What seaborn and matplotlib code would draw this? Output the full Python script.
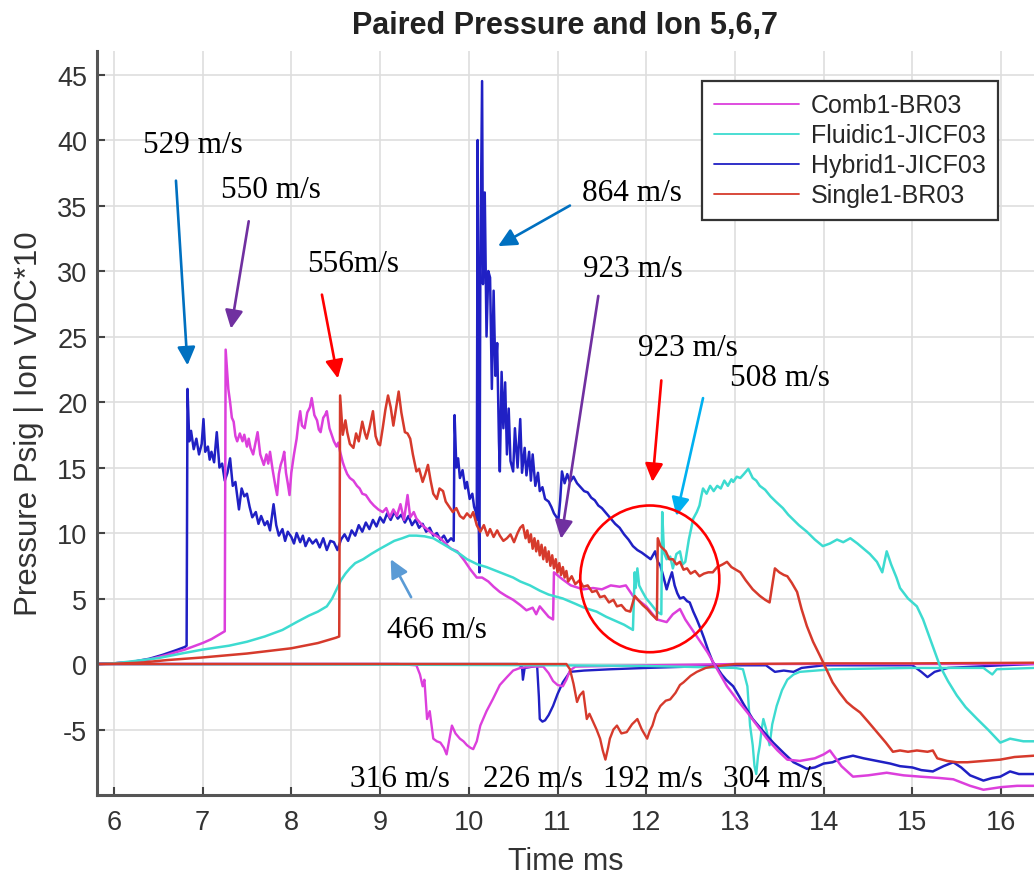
"""Paired pressure and ion traces (runs 5,6,7) with wave-speed call-outs."""

import matplotlib.pyplot as plt
import pandas as pd
import seaborn as sns
from matplotlib.patches import Ellipse

SERIES = ["Comb1-BR03", "Fluidic1-JICF03", "Hybrid1-JICF03", "Single1-BR03"]
COLORS = {
    "Comb1-BR03": "#dc3fdc",
    "Fluidic1-JICF03": "#3ddbd0",
    "Hybrid1-JICF03": "#2020c4",
    "Single1-BR03": "#d63a2c",
}

# pressure traces (time ms, psig)
COMB_P = [
    (5.81, 0.0), (6.0, 0.05), (6.2, 0.15), (6.4, 0.35), (6.6, 0.7), (6.8, 1.1), (7.0, 1.6),
    (7.1, 1.9), (7.2, 2.3), (7.25, 2.5), (7.26, 24.0), (7.29, 21.0), (7.31, 20.0), (7.33, 18.8),
    (7.35, 18.5), (7.37, 17.4), (7.39, 17.0), (7.42, 17.6), (7.45, 17.0), (7.47, 17.5),
    (7.5, 16.6), (7.52, 17.2), (7.54, 16.5), (7.57, 16.0), (7.6, 17.0), (7.62, 17.7),
    (7.65, 16.0), (7.67, 15.6), (7.69, 15.2), (7.72, 16.0), (7.74, 15.3), (7.76, 16.2),
    (7.79, 14.8), (7.82, 13.6), (7.84, 12.9), (7.86, 14.5), (7.88, 15.2), (7.9, 15.6),
    (7.92, 16.2), (7.94, 14.6), (7.96, 13.8), (7.98, 12.9), (8.0, 14.6), (8.03, 16.0),
    (8.06, 17.2), (8.08, 18.4), (8.1, 19.3), (8.12, 18.2), (8.15, 18.0), (8.18, 19.2),
    (8.21, 19.6), (8.23, 20.3), (8.26, 19.0), (8.29, 18.6), (8.31, 17.9), (8.33, 17.7),
    (8.36, 18.8), (8.38, 19.0), (8.4, 19.3), (8.43, 18.0), (8.46, 17.4), (8.48, 17.0),
    (8.51, 16.6), (8.53, 16.9), (8.55, 16.2), (8.58, 15.4), (8.6, 15.0), (8.63, 14.5),
    (8.66, 14.2), (8.7, 14.0), (8.74, 13.6), (8.77, 13.4), (8.8, 13.0), (8.84, 12.9),
    (8.89, 12.4), (8.93, 12.1), (8.98, 11.8), (9.03, 11.6), (9.07, 11.9), (9.11, 11.2),
    (9.15, 11.8), (9.19, 11.3), (9.23, 12.2), (9.27, 11.0), (9.31, 12.9), (9.34, 11.2),
    (9.38, 11.6), (9.41, 11.1), (9.45, 10.8), (9.49, 10.5), (9.53, 10.3), (9.58, 10.0),
    (9.63, 9.8), (9.68, 9.6), (9.75, 9.1), (9.8, 8.8), (9.87, 8.6), (9.95, 7.9), (10.02, 7.2),
    (10.09, 6.6), (10.15, 6.6), (10.22, 6.3), (10.28, 5.9), (10.35, 5.5), (10.42, 5.2),
    (10.5, 4.9), (10.58, 4.5), (10.65, 4.1), (10.72, 4.3), (10.76, 3.8), (10.8, 4.4),
    (10.85, 4.0), (10.9, 3.6), (10.95, 3.4), (10.96, 7.0), (11.05, 6.5), (11.15, 6.0),
    (11.29, 5.7), (11.4, 5.8), (11.5, 5.7), (11.6, 6.0), (11.7, 5.9), (11.77, 6.0),
    (11.85, 5.2), (12.0, 4.4), (12.12, 3.4), (12.23, 3.2), (12.3, 3.8), (12.38, 4.2),
    (12.44, 3.4), (12.49, 2.9), (12.6, 1.8), (12.69, 0.9), (12.8, -0.4), (12.91, -1.7),
    (13.02, -2.7), (13.14, -3.7), (13.25, -4.7), (13.36, -5.7), (13.48, -6.6), (13.59, -7.3),
    (13.73, -7.4), (13.9, -7.2), (14.0, -6.9), (14.07, -6.6), (14.2, -7.8), (14.33, -8.6),
    (14.5, -8.5), (14.71, -8.3), (14.9, -8.5), (15.09, -8.6), (15.3, -8.7), (15.46, -8.8),
    (15.65, -9.3), (15.8, -9.6), (16.0, -9.4), (16.18, -9.3), (16.37, -9.3),
]
FLUIDIC_P = [
    (5.81, 0.0), (6.0, 0.05), (6.2, 0.2), (6.5, 0.45), (6.8, 0.85), (7.0, 1.1), (7.3, 1.4),
    (7.5, 1.7), (7.7, 2.1), (7.9, 2.6), (8.06, 3.2), (8.2, 3.7), (8.3, 4.0), (8.4, 4.4),
    (8.46, 5.0), (8.51, 5.7), (8.56, 6.4), (8.61, 6.9), (8.66, 7.3), (8.72, 7.7), (8.81, 8.0),
    (8.9, 8.4), (9.0, 8.8), (9.08, 9.1), (9.16, 9.4), (9.25, 9.6), (9.33, 9.8), (9.41, 9.8),
    (9.5, 9.75), (9.6, 9.6), (9.7, 9.2), (9.8, 8.8), (9.9, 8.4), (9.98, 8.0), (10.1, 7.6),
    (10.2, 7.4), (10.35, 7.0), (10.5, 6.6), (10.58, 6.3), (10.69, 6.0), (10.8, 5.6),
    (10.9, 5.3), (11.06, 5.0), (11.2, 4.6), (11.3, 4.3), (11.44, 4.0), (11.55, 3.6),
    (11.65, 3.3), (11.75, 3.0), (11.85, 2.6), (11.87, 7.0), (11.88, 5.8), (11.9, 7.3),
    (11.92, 6.0), (11.95, 5.6), (12.0, 5.0), (12.05, 4.6), (12.12, 4.0), (12.17, 3.8),
    (12.18, 11.6), (12.2, 8.5), (12.23, 8.0), (12.27, 8.2), (12.3, 7.3), (12.34, 8.4),
    (12.38, 8.6), (12.41, 7.6), (12.44, 7.8), (12.48, 9.5), (12.53, 11.1), (12.57, 11.6),
    (12.6, 12.1), (12.62, 12.8), (12.64, 13.4), (12.68, 13.0), (12.72, 13.6), (12.76, 13.2),
    (12.8, 13.6), (12.84, 13.4), (12.88, 14.0), (12.92, 13.6), (12.96, 14.1), (12.98, 13.9),
    (13.02, 14.3), (13.06, 14.2), (13.1, 14.5), (13.15, 14.9), (13.2, 14.2), (13.24, 14.0),
    (13.28, 13.6), (13.34, 13.3), (13.4, 12.8), (13.46, 12.4), (13.54, 11.9), (13.6, 11.4),
    (13.66, 11.0), (13.72, 10.6), (13.81, 10.1), (13.9, 9.5), (13.99, 9.0), (14.07, 9.2),
    (14.15, 9.5), (14.22, 9.3), (14.3, 9.6), (14.38, 9.2), (14.45, 8.8), (14.52, 8.4),
    (14.6, 7.8), (14.66, 7.0), (14.71, 8.6), (14.76, 7.6), (14.82, 6.6), (14.86, 5.8),
    (14.95, 5.0), (15.05, 4.4), (15.12, 3.4), (15.2, 1.9), (15.31, -0.15), (15.4, -1.3),
    (15.5, -2.4), (15.6, -3.3), (15.73, -4.2), (15.85, -5.0), (15.99, -6.0), (16.1, -5.7),
    (16.25, -5.9), (16.37, -5.9),
]
HYBRID_P = [
    (5.81, 0.0), (6.0, 0.05), (6.2, 0.15), (6.4, 0.4), (6.55, 0.7), (6.7, 1.05), (6.8, 1.3),
    (6.82, 1.4), (6.83, 21.0), (6.85, 17.0), (6.87, 17.8), (6.9, 16.4), (6.93, 17.2),
    (6.96, 16.0), (6.99, 16.8), (7.01, 18.7), (7.03, 16.2), (7.06, 16.6), (7.08, 15.6),
    (7.1, 16.2), (7.13, 15.4), (7.16, 17.7), (7.19, 15.0), (7.22, 15.3), (7.25, 14.0),
    (7.28, 14.6), (7.31, 15.7), (7.34, 13.6), (7.37, 13.9), (7.41, 11.8), (7.44, 13.4),
    (7.47, 12.8), (7.5, 13.0), (7.53, 12.0), (7.56, 11.2), (7.6, 11.6), (7.63, 10.7),
    (7.66, 11.3), (7.7, 10.6), (7.73, 10.9), (7.76, 10.2), (7.8, 12.2), (7.83, 10.6),
    (7.86, 9.8), (7.9, 10.3), (7.93, 9.4), (7.96, 10.1), (8.0, 9.7), (8.03, 9.2), (8.06, 10.0),
    (8.1, 9.3), (8.13, 9.8), (8.16, 9.0), (8.2, 9.6), (8.24, 9.2), (8.28, 9.5), (8.32, 8.9),
    (8.36, 9.6), (8.4, 8.7), (8.44, 9.4), (8.48, 9.3), (8.52, 8.7), (8.56, 9.5), (8.6, 9.9),
    (8.64, 9.4), (8.68, 10.2), (8.72, 9.8), (8.76, 10.6), (8.8, 10.1), (8.84, 10.8),
    (8.88, 10.3), (8.92, 11.0), (8.96, 10.5), (9.0, 11.2), (9.04, 10.8), (9.08, 11.5),
    (9.12, 11.0), (9.16, 11.6), (9.2, 11.1), (9.24, 11.4), (9.28, 10.8), (9.32, 11.3),
    (9.36, 10.6), (9.4, 11.0), (9.44, 10.4), (9.48, 10.7), (9.52, 10.1), (9.56, 10.4),
    (9.6, 9.8), (9.64, 10.0), (9.68, 9.5), (9.72, 9.8), (9.76, 9.3), (9.8, 9.6), (9.83, 9.4),
    (9.84, 19.0), (9.86, 15.0), (9.88, 15.7), (9.9, 14.2), (9.93, 14.8), (9.96, 13.4),
    (9.98, 13.9), (10.01, 12.6), (10.04, 13.0), (10.06, 12.0), (10.08, 11.6), (10.09, 11.0),
    (10.1, 40.0), (10.11, 12.0), (10.12, 7.0), (10.13, 30.0), (10.15, 44.5), (10.16, 29.0),
    (10.18, 36.0), (10.2, 25.0), (10.22, 30.0), (10.24, 29.5), (10.26, 21.0), (10.28, 28.5),
    (10.3, 22.0), (10.32, 24.5), (10.34, 17.0), (10.35, 14.7), (10.37, 22.3), (10.39, 18.0),
    (10.41, 21.5), (10.43, 16.0), (10.45, 19.5), (10.47, 15.5), (10.5, 14.7), (10.52, 18.0),
    (10.55, 15.0), (10.58, 18.7), (10.6, 14.6), (10.63, 16.5), (10.65, 14.4), (10.68, 16.2),
    (10.7, 14.0), (10.72, 16.0), (10.75, 13.6), (10.78, 14.6), (10.8, 13.2), (10.83, 13.5),
    (10.86, 12.6), (10.9, 12.4), (10.93, 12.0), (10.96, 11.5), (10.99, 11.2), (11.01, 11.0),
    (11.03, 12.5), (11.05, 14.7), (11.08, 13.8), (11.11, 14.5), (11.14, 13.9), (11.18, 14.3),
    (11.22, 13.8), (11.26, 13.5), (11.3, 13.2), (11.34, 13.1), (11.38, 12.7), (11.42, 12.5),
    (11.46, 12.1), (11.5, 11.9), (11.55, 11.5), (11.6, 11.1), (11.65, 10.7), (11.7, 10.4),
    (11.75, 9.9), (11.8, 9.5), (11.85, 9.0), (11.9, 8.7), (11.95, 8.5), (12.01, 8.2),
    (12.05, 8.0), (12.1, 8.6), (12.13, 7.8), (12.16, 7.5), (12.2, 6.5), (12.23, 5.7),
    (12.26, 6.4), (12.29, 7.0), (12.32, 6.0), (12.35, 5.4), (12.38, 5.0), (12.42, 5.1),
    (12.46, 4.8), (12.49, 4.7), (12.53, 4.0), (12.57, 3.4), (12.6, 2.9), (12.65, 2.0),
    (12.7, 1.0), (12.75, 0.15), (12.8, -0.3), (12.85, -0.8), (12.9, -1.2), (12.98, -1.7),
    (13.05, -2.5), (13.1, -3.1), (13.2, -4.2), (13.3, -5.0), (13.43, -6.0), (13.55, -6.8),
    (13.66, -7.5), (13.75, -7.8), (13.81, -8.0), (13.9, -7.9), (14.0, -7.6), (14.1, -7.5),
    (14.2, -7.2), (14.33, -7.0), (14.45, -7.2), (14.6, -7.4), (14.75, -7.6), (14.86, -7.8),
    (15.0, -7.9), (15.1, -8.1), (15.23, -8.2), (15.35, -7.8), (15.46, -7.5), (15.55, -7.9),
    (15.65, -8.5), (15.8, -8.9), (15.9, -8.7), (15.99, -8.6), (16.1, -8.2), (16.2, -8.4),
    (16.37, -8.4),
]
SINGLE_P = [
    (5.81, 0.0), (6.0, 0.02), (6.3, 0.1), (6.6, 0.3), (7.0, 0.5), (7.5, 0.8), (8.0, 1.2),
    (8.3, 1.6), (8.5, 2.0), (8.54, 2.1), (8.55, 20.5), (8.58, 17.5), (8.61, 18.6), (8.63, 17.7),
    (8.66, 16.8), (8.7, 16.5), (8.73, 17.6), (8.76, 17.0), (8.8, 18.5), (8.83, 17.6),
    (8.85, 17.2), (8.88, 18.0), (8.92, 19.3), (8.95, 17.4), (8.98, 16.8), (9.0, 16.7),
    (9.03, 18.0), (9.06, 19.4), (9.09, 20.5), (9.12, 19.6), (9.15, 18.2), (9.18, 19.5),
    (9.21, 20.8), (9.24, 19.2), (9.28, 17.7), (9.31, 17.6), (9.34, 17.2), (9.37, 16.0),
    (9.41, 14.7), (9.44, 14.9), (9.48, 13.9), (9.51, 14.5), (9.54, 15.2), (9.57, 14.0),
    (9.6, 13.0), (9.64, 12.6), (9.67, 13.4), (9.71, 13.2), (9.74, 12.4), (9.78, 12.0),
    (9.82, 11.6), (9.86, 11.9), (9.9, 11.3), (9.94, 11.1), (9.98, 11.5), (10.02, 11.2),
    (10.05, 11.6), (10.09, 10.6), (10.13, 10.1), (10.17, 10.6), (10.21, 9.8), (10.24, 10.3),
    (10.28, 9.7), (10.32, 10.2), (10.35, 9.8), (10.39, 9.4), (10.43, 9.6), (10.47, 9.9),
    (10.51, 9.3), (10.55, 10.0), (10.58, 10.4), (10.61, 10.6), (10.64, 9.6), (10.66, 10.2),
    (10.68, 9.3), (10.7, 9.9), (10.72, 8.8), (10.74, 9.6), (10.76, 8.6), (10.78, 9.4),
    (10.8, 8.3), (10.82, 9.1), (10.84, 8.0), (10.86, 8.9), (10.88, 7.8), (10.9, 8.6),
    (10.92, 7.5), (10.94, 8.3), (10.96, 7.3), (10.98, 8.0), (11.0, 7.0), (11.02, 7.7),
    (11.04, 6.8), (11.06, 7.4), (11.08, 6.6), (11.1, 7.1), (11.12, 6.3), (11.16, 6.7),
    (11.2, 6.1), (11.25, 6.4), (11.29, 5.9), (11.34, 6.0), (11.39, 5.5), (11.44, 5.6),
    (11.48, 5.1), (11.53, 5.2), (11.58, 4.7), (11.63, 4.9), (11.67, 4.4), (11.72, 4.5),
    (11.77, 4.1), (11.82, 4.0), (11.87, 5.2), (11.92, 4.8), (11.96, 4.5), (12.01, 4.2),
    (12.06, 3.8), (12.12, 3.4), (12.13, 9.6), (12.16, 9.0), (12.19, 8.8), (12.22, 8.6),
    (12.26, 8.0), (12.3, 8.0), (12.34, 7.6), (12.38, 7.8), (12.42, 7.2), (12.46, 7.3),
    (12.5, 6.9), (12.55, 7.1), (12.6, 6.7), (12.65, 6.9), (12.7, 7.0), (12.75, 7.0),
    (12.8, 7.4), (12.86, 7.6), (12.91, 7.8), (12.96, 7.4), (13.01, 7.2), (13.06, 7.0),
    (13.12, 6.4), (13.2, 5.7), (13.28, 5.2), (13.34, 4.9), (13.39, 4.7), (13.42, 6.0),
    (13.45, 7.3), (13.5, 7.0), (13.55, 6.8), (13.59, 6.7), (13.64, 6.2), (13.7, 5.5),
    (13.75, 4.2), (13.81, 2.9), (13.88, 1.7), (13.96, 0.6), (14.03, -0.4), (14.1, -1.4),
    (14.18, -2.2), (14.26, -2.9), (14.33, -3.3), (14.41, -3.7), (14.5, -4.4), (14.6, -5.2),
    (14.7, -6.0), (14.78, -6.7), (14.86, -6.6), (14.95, -6.7), (15.05, -6.6), (15.17, -6.7),
    (15.23, -6.6), (15.28, -7.2), (15.39, -7.4), (15.5, -7.5), (15.62, -7.5), (15.8, -7.4),
    (15.99, -7.3), (16.15, -7.1), (16.37, -7.0),
]

# ion traces (time ms, VDC*10)
COMB_ION = [
    (5.81, 0.0), (9.2, 0.0), (9.41, -0.1), (9.45, -0.8), (9.48, -1.7), (9.5, -1.2),
    (9.53, -4.2), (9.56, -3.6), (9.6, -5.7), (9.64, -5.9), (9.68, -6.0), (9.72, -6.4),
    (9.75, -6.9), (9.78, -5.8), (9.81, -4.7), (9.85, -5.3), (9.9, -5.7), (9.94, -5.9),
    (9.98, -6.2), (10.02, -6.4), (10.05, -6.5), (10.09, -5.9), (10.13, -4.7), (10.2, -3.6),
    (10.27, -2.7), (10.35, -1.6), (10.43, -1.0), (10.5, -0.5), (10.58, -0.3), (10.7, -0.2),
    (10.84, -0.2), (10.9, -0.7), (10.95, -1.3), (11.0, -1.6), (11.06, -1.7), (11.1, -1.2),
    (11.14, -0.5), (11.2, -0.2), (12.0, -0.1), (13.0, 0.0), (14.0, 0.0), (15.0, 0.0),
    (16.37, 0.0),
]
FLUIDIC_ION = [
    (5.81, 0.0), (9.0, -0.05), (11.0, -0.1), (12.0, -0.15), (13.0, -0.3), (13.09, -0.4),
    (13.14, -1.7), (13.17, -4.7), (13.2, -6.2), (13.22, -7.8), (13.24, -8.4), (13.26, -7.0),
    (13.28, -6.2), (13.3, -5.0), (13.32, -4.2), (13.36, -5.2), (13.39, -6.2), (13.42, -4.6),
    (13.47, -3.2), (13.53, -2.0), (13.59, -1.2), (13.66, -0.8), (13.73, -0.6), (14.1, -0.4),
    (15.0, -0.3), (15.8, -0.3), (15.9, -0.8), (15.95, -0.4), (16.37, -0.3),
]
HYBRID_ION = [
    (5.81, 0.0), (10.55, 0.0), (10.6, -0.2), (10.61, -1.2), (10.63, -0.3), (10.72, -0.2),
    (10.77, -0.1), (10.79, -2.5), (10.8, -4.2), (10.83, -4.4), (10.86, -4.3), (10.9, -3.9),
    (10.95, -3.2), (11.0, -2.3), (11.06, -1.4), (11.1, -1.0), (11.14, -0.6), (11.3, -0.5),
    (11.6, -0.4), (12.0, -0.3), (12.5, -0.2), (13.0, -0.1), (13.35, -0.1), (13.45, -0.6),
    (13.55, -0.5), (13.66, -0.6), (13.75, -0.3), (14.0, -0.1), (15.0, -0.1), (15.1, -0.6),
    (15.17, -1.0), (15.25, -0.6), (15.4, -0.3), (16.0, -0.1), (16.37, 0.0),
]
SINGLE_ION = [
    (5.81, 0.0), (11.1, 0.0), (11.14, -0.4), (11.18, -1.5), (11.22, -2.9), (11.25, -2.4),
    (11.29, -2.1), (11.33, -4.2), (11.36, -3.8), (11.4, -4.4), (11.44, -5.0), (11.48, -5.7),
    (11.51, -6.6), (11.54, -7.3), (11.57, -6.4), (11.59, -5.7), (11.63, -5.0), (11.67, -4.7),
    (11.72, -5.3), (11.78, -5.2), (11.84, -4.6), (11.9, -4.2), (11.95, -5.0), (12.01, -5.7),
    (12.04, -5.1), (12.07, -4.7), (12.11, -3.8), (12.16, -3.2), (12.22, -2.8), (12.27, -2.7),
    (12.33, -2.2), (12.38, -1.6), (12.42, -1.4), (12.5, -0.9), (12.57, -0.6), (12.67, -0.3),
    (12.75, -0.2), (13.0, 0.0), (14.0, 0.05), (15.0, 0.05), (16.37, 0.1),
]

PRESSURE = {
    "Comb1-BR03": COMB_P,
    "Fluidic1-JICF03": FLUIDIC_P,
    "Hybrid1-JICF03": HYBRID_P,
    "Single1-BR03": SINGLE_P,
}
ION = {
    "Comb1-BR03": COMB_ION,
    "Fluidic1-JICF03": FLUIDIC_ION,
    "Hybrid1-JICF03": HYBRID_ION,
    "Single1-BR03": SINGLE_ION,
}

# wave-speed call-outs: text, text anchor, arrow tail, arrow head, colour
SPEED_ARROWS = [
    ("529 m/s", (6.33, 39.1), (6.70, 36.9), (6.83, 22.8), "#0070c0"),
    ("550 m/s", (7.21, 35.65), (7.52, 33.8), (7.32, 25.6), "#7030a0"),
    ("556m/s", (8.18, 30.0), (8.345, 28.2), (8.525, 21.8), "#ff0000"),
    ("864 m/s", (11.28, 35.4), (11.14, 35.0), (10.33, 31.9), "#0070c0"),
    ("923 m/s", (11.29, 29.6), (11.46, 28.1), (11.04, 9.56), "#7030a0"),
    ("923 m/s", (11.91, 23.6), (12.17, 21.65), (12.07, 13.9), "#ff0000"),
    ("508 m/s", (12.94, 21.3), (12.64, 20.3), (12.34, 11.3), "#00b0f0"),
    ("466 m/s", (9.08, 2.07), (9.35, 5.1), (9.12, 8.0), "#5b9bd5"),
]
ION_SPEEDS = [("316 m/s", 8.66), ("226 m/s", 10.16), ("192 m/s", 11.51), ("304 m/s", 12.87)]
ION_SPEED_Y = -9.3


def to_frame(points: list[tuple[float, float]]) -> pd.DataFrame:
    """Turn (time, value) pairs into a plotting frame."""
    return pd.DataFrame(points, columns=["time", "value"])


def main() -> None:
    sns.set_theme(style="whitegrid")
    plt.rcParams["font.family"] = ["Liberation Sans", "DejaVu Sans"]
    plt.rcParams["axes.unicode_minus"] = False

    fig = plt.figure(figsize=(10.34, 8.78), dpi=100)
    ax = fig.add_axes([0.0938, 0.0934, 0.9062, 0.8474])

    draw_order = ["Hybrid1-JICF03", "Comb1-BR03", "Fluidic1-JICF03", "Single1-BR03"]
    for name in draw_order:
        sns.lineplot(data=to_frame(ION[name]), x="time", y="value", color=COLORS[name],
                     lw=1.7, estimator=None, sort=False, legend=False, ax=ax)
    for name in draw_order:
        sns.lineplot(data=to_frame(PRESSURE[name]), x="time", y="value", color=COLORS[name],
                     lw=1.8, estimator=None, sort=False, label=name, ax=ax)

    handles, labels = ax.get_legend_handles_labels()
    lookup = dict(zip(labels, handles))
    leg = ax.legend([lookup[s] for s in SERIES], SERIES, loc="upper right",
                    bbox_to_anchor=(0.9616, 0.9597), borderaxespad=0, fontsize=18,
                    frameon=True, fancybox=False, edgecolor="#333333", handlelength=3.4,
                    labelspacing=0.24, borderpad=0.5, handletextpad=0.45)
    leg.get_frame().set_linewidth(1.6)
    leg.get_frame().set_alpha(1.0)
    for line in leg.get_lines():
        line.set_linewidth(1.3)

    for text, (tx, ty), tail, head, color in SPEED_ARROWS:
        ax.annotate("", xy=head, xytext=tail,
                    arrowprops=dict(arrowstyle="-|>,head_length=0.55,head_width=0.27",
                                    color=color, lw=1.9, mutation_scale=20,
                                    shrinkA=0, shrinkB=0))
        ax.text(tx, ty, text, family="Liberation Serif", fontsize=22.5, color="black",
                ha="left", va="baseline", zorder=6)
    for text, tx in ION_SPEEDS:
        ax.text(tx, ION_SPEED_Y, text, family="Liberation Serif", fontsize=22.5,
                color="black", ha="left", va="baseline", zorder=6)

    ax.add_patch(Ellipse((12.04, 6.5), 1.567, 11.2, fill=False, edgecolor="#ff0000",
                         lw=1.9, zorder=5))

    ax.set_xlim(5.81, 16.37)
    ax.set_ylim(-10, 46.8)
    ax.set_xticks(range(6, 17))
    ax.set_yticks(range(-5, 50, 5))
    ax.grid(True, color="#dedede", lw=1.2)
    ax.set_axisbelow(True)
    ax.tick_params(direction="in", length=6, width=1.5, colors="#444444",
                   labelsize=19.5, labelcolor="#333333", bottom=True, left=True)
    ax.tick_params(axis="x", pad=10)
    ax.tick_params(axis="y", pad=7)
    for side in ("top", "right"):
        ax.spines[side].set_visible(False)
    for side in ("left", "bottom"):
        ax.spines[side].set_color("#555555")
        ax.spines[side].set_linewidth(2.2)

    ax.set_title("Paired Pressure and Ion 5,6,7", fontsize=22, fontweight="bold",
                 color="#222222", pad=13)
    ax.set_xlabel("Time ms", fontsize=22, color="#333333")
    ax.set_ylabel("Pressure Psig | Ion VDC*10", fontsize=22.5, color="#333333")
    ax.xaxis.set_label_coords(0.5, -0.068)
    ax.yaxis.set_label_coords(-0.057, 0.5)

    fig.savefig("out.png", dpi=100)
    plt.close(fig)


if __name__ == "__main__":
    main()
